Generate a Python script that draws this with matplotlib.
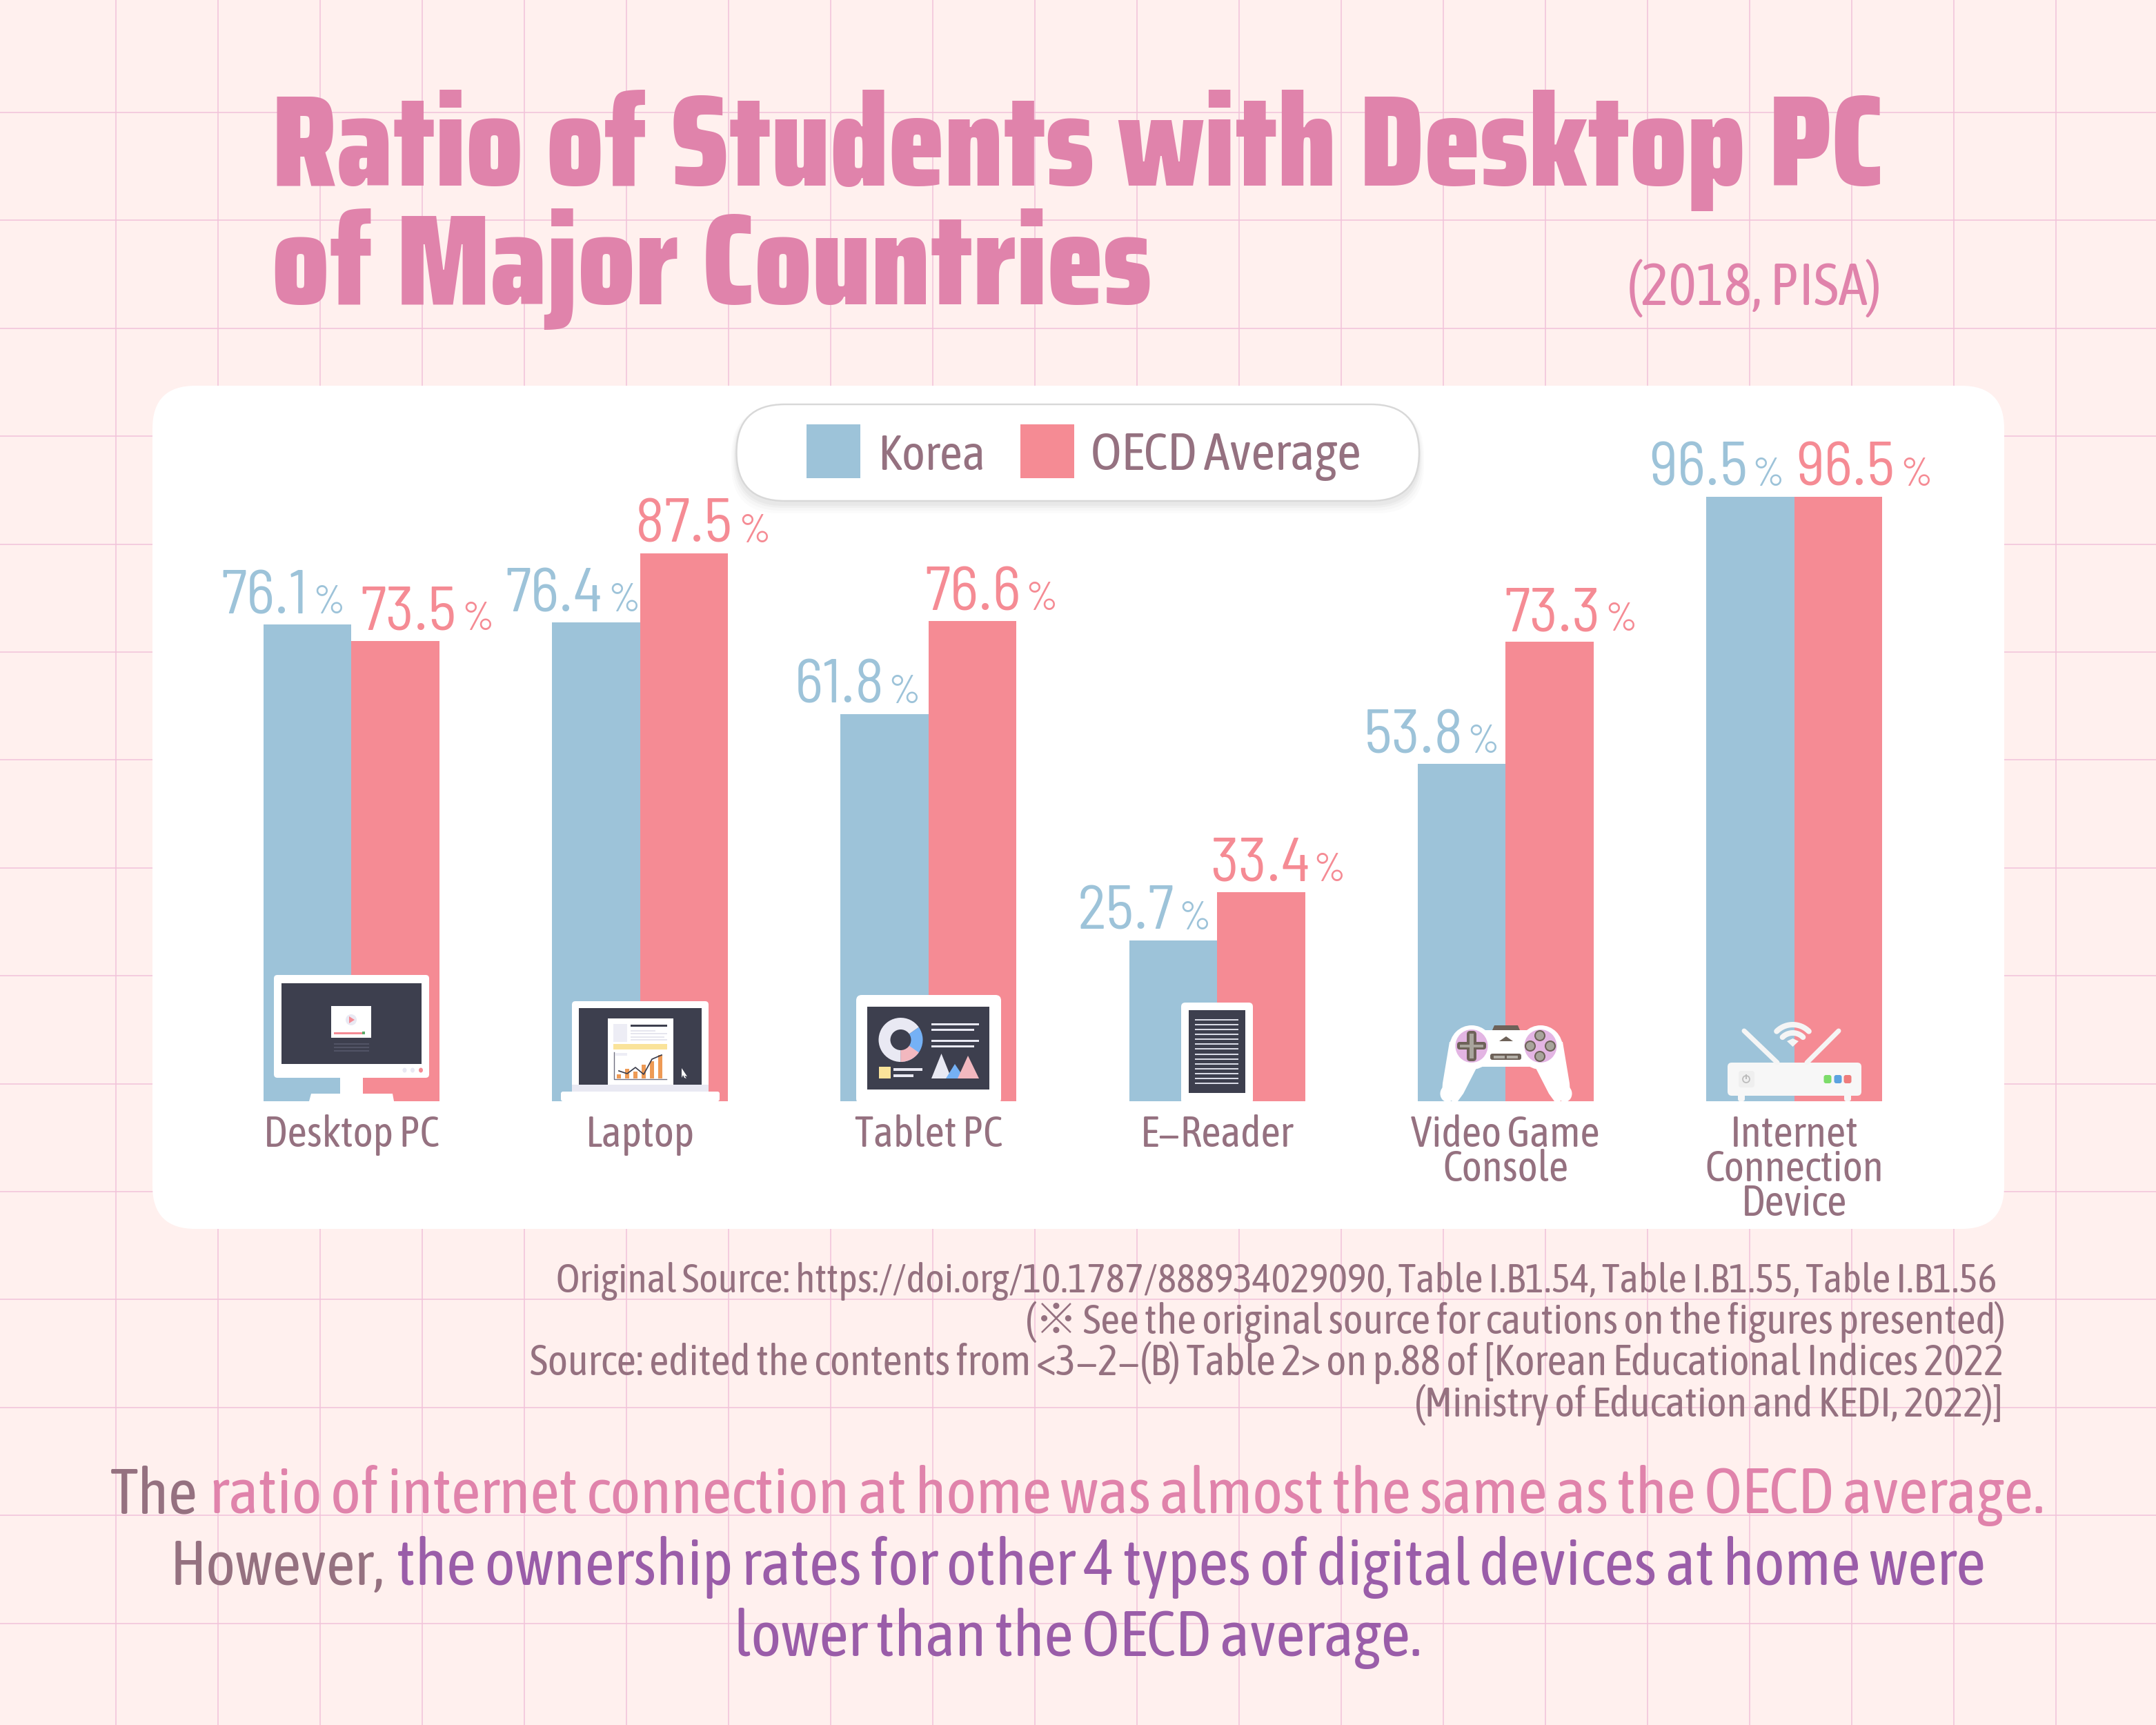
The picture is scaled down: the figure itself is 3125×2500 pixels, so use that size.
import numpy as np
import matplotlib
matplotlib.use('Agg')
import matplotlib.pyplot as plt
from matplotlib.patches import FancyBboxPatch, Rectangle, Polygon, Circle, Ellipse, Wedge
import logging
logging.getLogger('matplotlib.font_manager').setLevel(logging.ERROR)

# ---- data ----
categories = [["Desktop PC"], ["Laptop"], ["Tablet PC"], ["E\u2212Reader"],
              ["Video Game", "Console"], ["Internet", "Connection", "Device"]]
korea = [76.1, 76.4, 61.8, 25.7, 53.8, 96.5]
oecd = [73.5, 87.5, 76.6, 33.4, 73.3, 96.5]
series_names = ["Korea", "OECD Average"]

# ---- style / layout ----
W, H = 3125, 2500
BG = '#FFF0EE'; GRID = '#F2C3DA'; PINK = '#E083AB'; PURPLE = '#9A5DA9'; GRAY = '#957180'
BLUE_BAR = '#9DC3D9'; RED_BAR = '#F58B94'
DARK = '#3D3F4E'
TITLE_FONT = ['Saira Condensed', 'Anton', 'DejaVu Sans']
BODY = ['Asap Condensed', 'Noto Sans CJK KR', 'DejaVu Sans']
NUM = ['Barlow Semi Condensed', 'Barlow Condensed', 'DejaVu Sans']
PXPT = 72 / 250
X0, UX = 509.5, 418.2      # pixel of category 0, pixels per category
Y0, UY = 1596, 9.08        # baseline pixel, pixels per percent
BAR_W = 127.5 / UX

korea_left = [320, 732, 1152, 1562, 1977, 2390]
oecd_left = [522, 921, 1340, 1754, 2180, 2603]
korea_pct = [453, 881, 1287, 1708, 2126, 2539]
oecd_pct = [669, 1070, 1486, 1903, 2326, 2754]

fig = plt.figure(figsize=(12.5, 10), dpi=250, facecolor=BG)
r = fig.canvas.get_renderer()

def pixel_axes(z):
    a = fig.add_axes([0, 0, 1, 1], zorder=z)
    a.set_xlim(0, W); a.set_ylim(H, 0); a.axis('off'); a.patch.set_alpha(0)
    return a

bg = pixel_axes(0)
ax = fig.add_axes([0, 0, 1, 1], zorder=1)
ax.set_xlim(-X0 / UX, (W - X0) / UX)
ax.set_ylim(-(H - Y0) / UY, Y0 / UY)
ax.axis('off'); ax.patch.set_alpha(0)
top = pixel_axes(2)

def fit(a, x0, x1, y, s, **kw):
    t = a.text(x0, y, s, fontsize=20, ha='left', va='baseline', **kw)
    w = t.get_window_extent(r).width
    t.set_fontsize(20 * (x1 - x0) / w)
    return t

# background grid
for x in np.arange(168, W, 148):
    bg.axvline(x, color=GRID, lw=0.45)
for y in np.arange(163, H, 156.4):
    bg.axhline(y, color=GRID, lw=0.45)

# card
bg.add_patch(FancyBboxPatch((221, 559), 2684, 1222, boxstyle='round,pad=0,rounding_size=62',
                            fc='white', ec='none', zorder=2))

# title
fit(bg, 394, 2732, 269, "Ratio of Students with Desktop PC", family=TITLE_FONT, weight=900, color=PINK, zorder=3)
fit(bg, 394, 1668, 441, "of Major Countries", family=TITLE_FONT, weight=900, color=PINK, zorder=3)
fit(bg, 2358, 2728, 442, "(2018, PISA)", family=BODY, color=PINK, zorder=3)

# bars
xs = np.arange(len(categories))
ax.bar(xs - BAR_W / 2, korea, BAR_W, color=BLUE_BAR, label=series_names[0])
ax.bar(xs + BAR_W / 2, oecd, BAR_W, color=RED_BAR, label=series_names[1])

# value labels
def value_labels(vals, off, lefts, pcts, col):
    for i, v in enumerate(vals):
        bx = X0 + UX * (i + off)
        ax.annotate(f"{v:.1f}", xy=(i + off, v), xytext=((lefts[i] - bx) * PXPT, 16 * PXPT),
                    textcoords='offset points', ha='left', va='baseline',
                    family=NUM, fontsize=25.5, color=col)
        ax.annotate("%", xy=(i + off, v), xytext=((pcts[i] - bx) * PXPT, 16 * PXPT),
                    textcoords='offset points', ha='left', va='baseline',
                    family=NUM, fontsize=16.5, color=col)
value_labels(korea, -BAR_W / 2, korea_left, korea_pct, BLUE_BAR)
value_labels(oecd, BAR_W / 2, oecd_left, oecd_pct, RED_BAR)

# category labels
for i, lines in enumerate(categories):
    for j, ln in enumerate(lines):
        ax.annotate(ln, xy=(i, 0), xytext=(0, -(66 + 50 * j) * PXPT), textcoords='offset points',
                    ha='center', va='baseline', family=BODY, fontsize=17.8, color=GRAY)

# legend pill
for k, al in zip([14, 10, 6, 3], [0.03, 0.04, 0.05, 0.06]):
    top.add_patch(FancyBboxPatch((1067 - k / 2, 586 + 4), 990 + k, 140 + k, boxstyle='round,pad=0,rounding_size=70',
                                 fc='#808080', ec='none', alpha=al))
top.add_patch(FancyBboxPatch((1067.5, 586), 989.5, 140, boxstyle='round,pad=0,rounding_size=70',
                             fc='white', ec='#D8D8D8', lw=0.7))
top.add_patch(Rectangle((1169, 615), 78, 78, fc=BLUE_BAR, ec='none'))
top.add_patch(Rectangle((1479, 615), 78, 78, fc=RED_BAR, ec='none'))
fit(top, 1272, 1428, 681, series_names[0], family=BODY, color=GRAY)
fit(top, 1581, 1973, 681, series_names[1], family=BODY, color=GRAY)

# source notes
fit(bg, 806, 2895, 1873, "Original Source: https://doi.org/10.1787/888934029090, Table I.B1.54, Table I.B1.55, Table I.B1.56", family=BODY, color=GRAY, zorder=3)
fit(bg, 1486, 2905, 1933, "(\u203b See the original source for cautions on the figures presented)", family=BODY, color=GRAY, zorder=3)
fit(bg, 768, 2905, 1993, "Source: edited the contents from <3\u22122\u2212(B) Table 2> on p.88 of [Korean Educational Indices 2022", family=BODY, color=GRAY, zorder=3)
fit(bg, 2050, 2903, 2053, "(Ministry of Education and KEDI, 2022)]", family=BODY, color=GRAY, zorder=3)

# statement
fit(bg, 160, 287, 2193, "The", family=BODY, color=GRAY, zorder=3)
fit(bg, 304, 2963, 2193, "ratio of internet connection at home was almost the same as the OECD average.", family=BODY, color=PINK, zorder=3)
fit(bg, 247, 558, 2297, "However,", family=BODY, color=GRAY, zorder=3)
fit(bg, 575, 2877, 2297, "the ownership rates for other 4 types of digital devices at home were", family=BODY, color=PURPLE, zorder=3)
fit(bg, 1064, 2060, 2400, "lower than the OECD average.", family=BODY, color=PURPLE, zorder=3)

# ---------- icons (decoration, in pixels) ----------
def rr(x0, y0, x1, y1, rad, fc, z=3, ec='none'):
    top.add_patch(FancyBboxPatch((x0, y0), x1 - x0, y1 - y0, boxstyle=f'round,pad=0,rounding_size={rad}',
                                 fc=fc, ec=ec, lw=0, zorder=z))
def rect(x0, y0, x1, y1, fc, z=4):
    top.add_patch(Rectangle((x0, y0), x1 - x0, y1 - y0, fc=fc, ec='none', zorder=z))
def poly(pts, fc, z=4):
    top.add_patch(Polygon(pts, closed=True, fc=fc, ec='none', zorder=z))

# desktop
rr(397, 1413, 622, 1562, 5, 'white')
rect(408, 1425, 611, 1542, DARK)
rect(493, 1560, 526, 1586, 'white')
poly([(451, 1585), (569, 1585), (571, 1596), (448, 1596)], 'white')
rect(480, 1458, 538, 1504, 'white', 5)
top.add_patch(Ellipse((509, 1478), 16, 16, fc='#E9E9F3', zorder=6))
poly([(506, 1473), (514, 1478), (506, 1483)], RED_BAR, 7)
rect(484, 1496, 529, 1498.5, RED_BAR, 6)
rect(525, 1495, 529, 1499, '#5BAA6A', 7)
for yy in (1513, 1518, 1523):
    rect(484, yy - 1, 535, yy + 1, '#525466', 5)
for xx, c in zip((587.5, 599, 611), ('#E9E9F3', '#E9E9F3', RED_BAR)):
    top.add_patch(Ellipse((xx - 1, 1551), 6, 7, fc=c, zorder=5))

# laptop
rr(829, 1451, 1027, 1590, 5, 'white')
rect(839, 1461, 1017, 1572, DARK)
rect(829, 1572, 1027, 1582, '#E9E9F3')
rr(813, 1582, 1043, 1596, 3, 'white', 5)
rect(881, 1476, 976, 1572, 'white', 5)
rect(889, 1484, 909, 1510, '#EDEDF5', 6)
rect(914, 1485, 967, 1487.5, DARK, 6)
for yy, xe in zip((1493, 1497, 1502, 1506), (950, 967, 963, 967)):
    rect(914, yy, xe, yy + 1.5, '#E6E6EF', 6)
rect(889, 1513, 967, 1521, '#FAE39A', 6)
rect(892, 1526, 909, 1530, '#EDEDF5', 6)
for xx, hh in zip((897, 909, 921, 933, 945, 957), (6, 14, 10, 20, 25, 34)):
    rect(xx - 3, 1563 - hh, xx + 3, 1563, '#EE9A55', 6)
top.plot([897, 909, 921, 933, 945, 959], [1552, 1556, 1547, 1557, 1535, 1529], color=DARK, lw=0.5, zorder=7)
top.plot([890, 890, 966], [1525, 1564, 1564], color='#707080', lw=0.4, zorder=7)
poly([(988, 1548), (996, 1560), (992, 1559), (995, 1563), (992, 1562), (990, 1558), (988, 1562)], 'white', 6)

# tablet
rr(1241, 1442, 1451, 1600, 8, 'white')
rect(1257, 1459, 1434, 1579, DARK)
dc = (1305.5, 1507)
top.add_patch(Wedge(dc, 32, -35, 90, fc='#75B1F5', zorder=5))
top.add_patch(Wedge(dc, 32, 35, 90, fc='#F2B8BF', zorder=6))
top.add_patch(Wedge(dc, 32, 90, 325, fc='#E9E9F3', zorder=5))
top.add_patch(Circle(dc, 15, fc=DARK, zorder=7))
for yy, xe in zip((1484, 1492, 1508, 1516), (1419, 1412, 1419, 1412)):
    rect(1350, yy - 1.5, xe, yy + 1.5, '#E9E9F3', 5)
poly([(1350, 1563), (1364.5, 1527), (1379, 1563)], '#E9E9F3', 5)
poly([(1371, 1563), (1384, 1542), (1398, 1563)], '#75B1F5', 6)
poly([(1388, 1563), (1403, 1530), (1419, 1563)], '#F2B8BF', 7)
rect(1274, 1546, 1291, 1563, '#FAE39A', 5)
rect(1295, 1548, 1337, 1552, '#E9E9F3', 5)
rect(1295, 1557, 1324, 1561, '#E9E9F3', 5)

# e-reader
rr(1712, 1453, 1816, 1600, 6, 'white')
rect(1723, 1464, 1805, 1584, DARK)
for yy in np.linspace(1478, 1570, 14):
    rect(1732, yy - 1, 1795, yy + 1, '#D9DBE6', 5)

# game controller
BR = '#6E6259'; LIL = '#E3B5E3'
for sgn in (-1, 1):
    cx = 2183 + sgn * 50
    top.add_patch(Ellipse((cx, 1518), 64, 64, fc='white', zorder=4))
    g = [(2183 + sgn * 82, 1510), (2183 + sgn * 92, 1570), (2183 + sgn * 93, 1585),
         (2183 + sgn * 78, 1596), (2183 + sgn * 70, 1596), (2183 + sgn * 62, 1585),
         (2183 + sgn * 42, 1546), (2183 + sgn * 30, 1500)]
    poly(g, 'white', 4)
    top.add_patch(Ellipse((2183 + sgn * 85, 1585), 21, 24, fc='white', zorder=4))
rect(2120, 1493, 2246, 1546, 'white', 4)
top.add_patch(Ellipse((2133, 1516), 47, 48, fc=LIL, zorder=5))
top.add_patch(Ellipse((2233, 1516), 47, 48, fc=LIL, zorder=5))
poly([(2166, 1486), (2200, 1486), (2203, 1493), (2163, 1493)], BR, 5)
poly([(2173, 1509), (2183, 1502), (2193, 1509)], BR, 5)
rr(2160, 1527, 2205, 1536, 3, BR, 5)
rect(2165, 1530, 2181, 1533.5, '#B4B0A8', 6); rect(2184, 1530, 2200, 1533.5, '#B4B0A8', 6)
rr(2126, 1494, 2140, 1538, 5, BR, 6); rr(2112, 1510, 2154, 1521, 4, BR, 6)
rect(2130, 1498, 2136, 1534, '#A8A49C', 7); rect(2116, 1514, 2150, 1518, '#A8A49C', 7)
for cx2, cy2 in ((2232, 1501), (2232, 1531), (2218, 1516), (2247, 1516)):
    top.add_patch(Ellipse((cx2, cy2), 14, 14, fc='#A8A49C', ec=BR, lw=0.6, zorder=6))

# router
def stroke(pts, w, fc='#F5F5F5', z=4):
    (x0, y0), (x1, y1) = pts
    top.plot([x0, x1], [y0, y1], color=fc, lw=w * PXPT, solid_capstyle='round', zorder=z)
stroke([(2528, 1494), (2576, 1540)], 7)
stroke([(2665, 1494), (2619, 1540)], 7)
wc = (2598.5, 1518)
for rad, wid in ((33, 8), (21, 8)):
    th = np.radians(np.linspace(45, 135, 30))
    top.plot(wc[0] + rad * np.cos(th), wc[1] - rad * np.sin(th), color='#F5F5F5', lw=wid * PXPT,
             solid_capstyle='round', zorder=4)
poly([(2598.5, 1517), (2590, 1509), (2598.5, 1505), (2607, 1509)], '#F5F5F5', 4)
rr(2504, 1540, 2698, 1588, 6, '#F7F7F7')
for fx in (2524, 2678):
    rr(fx - 5, 1585, fx + 5, 1596, 3, '#F7F7F7', 3)
rr(2520, 1552, 2543, 1576, 4, '#EFEFEF', 4)
top.add_patch(Circle((2531, 1564), 5, fc='none', ec='#BBBBBB', lw=0.5, zorder=5))
rect(2530.2, 1557, 2531.8, 1564, '#BBBBBB', 5)
for xx, c in zip((2649, 2664, 2678), ('#7CDC6A', '#5BA3E0', '#EF7C7C')):
    rr(xx - 5.5, 1558, xx + 5.5, 1570, 3, c, 5)

fig.savefig('out.png', dpi=250, facecolor=BG)
